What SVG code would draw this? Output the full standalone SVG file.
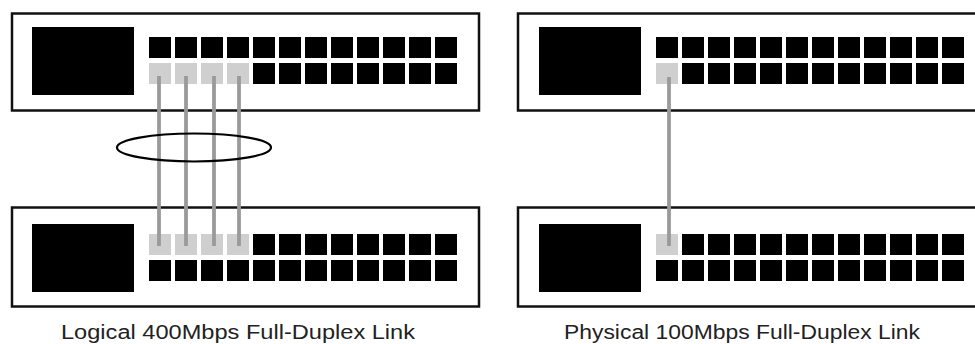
<svg xmlns="http://www.w3.org/2000/svg" xmlns:xlink="http://www.w3.org/1999/xlink" width="975" height="344" viewBox="0 0 975 344">
  <style>
    .chassis { fill: #ffffff; stroke: #111111; stroke-width: 2.5; }
    .panel { fill: #000000; }
    .port { fill: #000000; }
    .linked { fill: #cfcfcf; }
    .cable { stroke: #9a9a9a; stroke-width: 3.8; fill: none; }
    .bundle { fill: none; stroke: #000000; stroke-width: 2.2; }
    .caption { font-family: "Liberation Sans", Arial, sans-serif; font-size: 19.5px; fill: #222222; text-anchor: middle; }
  </style>
  <defs>
    <!-- a row of 12 switch ports, 26px pitch -->
    <g id="portRow">
      <rect class="port" x="0" y="0" width="22" height="21"/>
      <rect class="port" x="26" y="0" width="22" height="21"/>
      <rect class="port" x="52" y="0" width="22" height="21"/>
      <rect class="port" x="78" y="0" width="22" height="21"/>
      <rect class="port" x="104" y="0" width="22" height="21"/>
      <rect class="port" x="130" y="0" width="22" height="21"/>
      <rect class="port" x="156" y="0" width="22" height="21"/>
      <rect class="port" x="182" y="0" width="22" height="21"/>
      <rect class="port" x="208" y="0" width="22" height="21"/>
      <rect class="port" x="234" y="0" width="22" height="21"/>
      <rect class="port" x="260" y="0" width="22" height="21"/>
      <rect class="port" x="286" y="0" width="22" height="21"/>
    </g>
  </defs>

  <!-- left pair: four aggregated links -->
  <g id="switch-a-top">
    <rect class="chassis" x="12" y="13.5" width="467" height="97"/>
    <rect class="panel" x="32" y="27" width="102" height="68"/>
    <use xlink:href="#portRow" x="149" y="37"/>
    <use xlink:href="#portRow" x="149" y="63"/>
    <rect class="linked" x="149" y="63" width="22" height="21"/>
    <rect class="linked" x="175" y="63" width="22" height="21"/>
    <rect class="linked" x="201" y="63" width="22" height="21"/>
    <rect class="linked" x="227" y="63" width="22" height="21"/>
  </g>
  <g id="switch-a-bottom">
    <rect class="chassis" x="12" y="207.5" width="467" height="99"/>
    <rect class="panel" x="32" y="224" width="102" height="68"/>
    <use xlink:href="#portRow" x="149" y="234"/>
    <use xlink:href="#portRow" x="149" y="260"/>
    <rect class="linked" x="149" y="234" width="22" height="21"/>
    <rect class="linked" x="175" y="234" width="22" height="21"/>
    <rect class="linked" x="201" y="234" width="22" height="21"/>
    <rect class="linked" x="227" y="234" width="22" height="21"/>
  </g>

  <!-- right pair: single physical link (chassis runs off the right edge) -->
  <g id="switch-b-top">
    <rect class="chassis" x="518" y="13.5" width="480" height="97"/>
    <rect class="panel" x="539" y="27" width="102" height="68"/>
    <use xlink:href="#portRow" x="656" y="37"/>
    <use xlink:href="#portRow" x="656" y="63"/>
    <rect class="linked" x="656" y="63" width="22" height="21"/>
  </g>
  <g id="switch-b-bottom">
    <rect class="chassis" x="518" y="207.5" width="480" height="99"/>
    <rect class="panel" x="539" y="224" width="102" height="68"/>
    <use xlink:href="#portRow" x="656" y="234"/>
    <use xlink:href="#portRow" x="656" y="260"/>
    <rect class="linked" x="656" y="234" width="22" height="21"/>
  </g>

  <g id="connectors">
    <line class="cable" x1="159" y1="76" x2="159" y2="246"/>
    <line class="cable" x1="186" y1="76" x2="186" y2="246"/>
    <line class="cable" x1="214" y1="76" x2="214" y2="246"/>
    <line class="cable" x1="239" y1="76" x2="239" y2="246"/>
    <line class="cable" x1="669" y1="77" x2="669" y2="246"/>
  </g>

  <g id="bundle">
    <ellipse class="bundle" cx="194" cy="147.5" rx="77" ry="14"/>
  </g>

  <g id="labels">
    <text class="caption" x="238" y="339" textLength="354" lengthAdjust="spacingAndGlyphs">Logical 400Mbps Full-Duplex Link</text>
    <text class="caption" x="742" y="339" textLength="356" lengthAdjust="spacingAndGlyphs">Physical 100Mbps Full-Duplex Link</text>
  </g>
</svg>
